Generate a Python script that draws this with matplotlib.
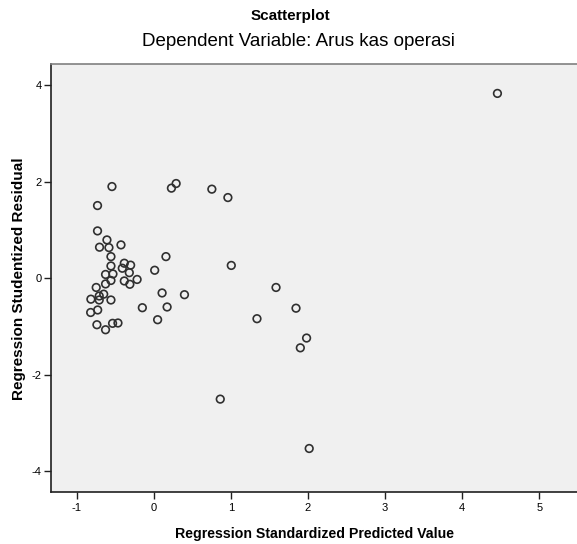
import matplotlib
matplotlib.use("Agg")
import matplotlib.pyplot as plt

plt.rcParams['font.family'] = ['Liberation Sans', 'DejaVu Sans']

# Regression Standardized Predicted Value
pred = [-0.541, 0.230, 0.291, 0.754, 0.962, -0.728, -0.728, -0.606, -0.702, -0.580,
        -0.424, -0.554, 0.159, -0.554, -0.381, -0.299, -0.407, -0.316, -0.624, -0.528,
        0.013, 1.006, -0.554, -0.624, -0.381, -0.309, -0.215, -0.745, -0.648, -0.706,
        -0.814, -0.706, -0.554, 0.109, 0.399, 1.586, -0.147, 0.174, 1.845, -0.817,
        -0.726, 0.051, 1.339, -0.736, -0.624, -0.533, -0.463, 1.982, 1.901, 0.863,
        2.016, 4.456]

# Regression Studentized Residual
resid = [1.902, 1.869, 1.965, 1.848, 1.674, 1.508, 0.982, 0.795, 0.644, 0.636,
         0.692, 0.449, 0.449, 0.255, 0.312, 0.272, 0.208, 0.116, 0.079, 0.089,
         0.166, 0.266, -0.046, -0.118, -0.056, -0.125, -0.025, -0.191, -0.330, -0.368,
         -0.434, -0.451, -0.451, -0.305, -0.341, -0.191, -0.611, -0.596, -0.621, -0.710,
         -0.658, -0.860, -0.839, -0.964, -1.068, -0.935, -0.928, -1.240, -1.443, -2.507,
         -3.531, 3.834]

xticks = [-1, 0, 1, 2, 3, 4, 5]
yticks = [-4, -2, 0, 2, 4]

fig = plt.figure(figsize=(5.77, 5.44), dpi=100)
ax = fig.add_axes([0.088, 0.095, 0.915, 0.787])
ax.set_facecolor('#f0f0f0')

ax.scatter(pred, resid, s=30, facecolors='none', edgecolors='#303030', linewidths=1.2, zorder=3)

ax.set_xlim(-1.334, 5.51)
ax.set_ylim(-4.44, 4.44)
ax.set_xticks(xticks)
ax.set_yticks(yticks)
ax.set_xticklabels([str(v) for v in xticks])
ax.set_yticklabels([str(v) for v in yticks])
ax.tick_params(direction='out', length=5, width=1, color='#202020', labelsize=8, pad=3)
ax.tick_params(axis='y', pad=1.5)

for side in ['left', 'bottom']:
    ax.spines[side].set_color('#202020')
    ax.spines[side].set_linewidth(1.2)
ax.spines['top'].set_color('#808080')
ax.spines['top'].set_linewidth(1.2)
ax.spines['right'].set_visible(False)

ax.set_xlabel('Regression Standardized Predicted Value', fontsize=10.2, fontweight='bold', labelpad=10)
ax.set_ylabel('Regression Studentized Residual', fontsize=11, fontweight='bold', labelpad=4)

fig.text(0.504, 0.971, 'Scatterplot', ha='center', va='center', fontsize=11, fontweight='bold')
fig.text(0.518, 0.923, 'Dependent Variable: Arus kas operasi', ha='center', va='center', fontsize=13.5)

fig.savefig('out.png', dpi=100)
